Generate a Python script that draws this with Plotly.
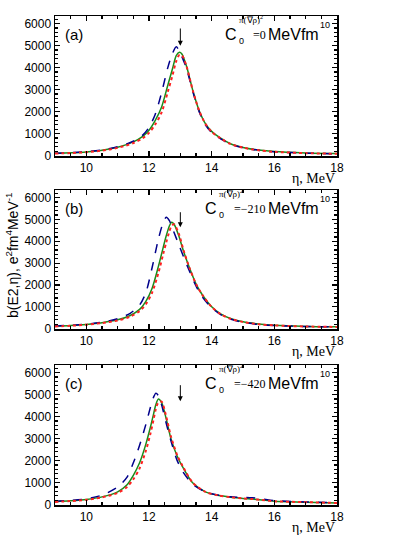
import plotly.graph_objects as go

# data (eta in MeV, b(E2) in e^2 fm^4 / MeV)
eta_a = [9, 9.5, 10, 10.5, 11, 11.5, 11.8, 12.0, 12.2, 12.4, 12.6, 12.75, 12.87, 12.97,
         13.05, 13.2, 13.4, 13.6, 13.8, 14.0, 14.3, 14.6, 15, 15.5, 16, 17, 18]
green_a = [100, 125, 165, 240, 380, 620, 870, 1150, 1600, 2200, 3200, 3950, 4550, 4700,
           4620, 4050, 2950, 2050, 1450, 1100, 780, 540, 370, 250, 180, 120, 90]
red_a = [90, 115, 155, 225, 350, 570, 790, 1030, 1420, 1950, 2900, 3650, 4300, 4580,
         4570, 4050, 2950, 2050, 1450, 1080, 770, 530, 360, 240, 170, 110, 80]
blue_a = [110, 130, 175, 260, 400, 650, 930, 1280, 1880, 2850, 4000, 4650, 4950, 4750,
          4500, 3950, 2900, 2000, 1400, 1050, 750, 520, 360, 240, 170, 110, 80]

eta_b = [9, 9.5, 10, 10.5, 11, 11.4, 11.7, 11.9, 12.1, 12.3, 12.45, 12.55, 12.65, 12.72,
         12.8, 12.95, 13.1, 13.3, 13.5, 13.7, 14.0, 14.3, 14.6, 15, 15.5, 16, 17, 18]
green_b = [110, 140, 190, 270, 400, 600, 880, 1250, 1850, 2850, 3700, 4250, 4700, 4870,
           4780, 4250, 3550, 2750, 2050, 1550, 1000, 660, 460, 310, 210, 150, 100, 80]
red_b = [100, 130, 180, 255, 370, 550, 800, 1120, 1650, 2550, 3400, 3950, 4450, 4700,
         4780, 4350, 3600, 2750, 2050, 1550, 990, 650, 450, 300, 200, 145, 95, 75]
blue_b = [120, 150, 200, 290, 450, 700, 1080, 1650, 2800, 4100, 4850, 5100, 4950, 4700,
          4400, 3850, 3300, 2600, 1950, 1450, 950, 630, 440, 290, 190, 140, 95, 75]

eta_c = [9, 9.5, 10, 10.5, 11, 11.3, 11.5, 11.7, 11.9, 12.05, 12.15, 12.22, 12.3, 12.4,
         12.55, 12.7, 12.9, 13.1, 13.4, 13.8, 14.2, 14.6, 15, 15.3, 15.6, 16, 17, 18]
green_c = [130, 170, 230, 350, 580, 900, 1330, 1900, 2750, 3550, 4150, 4550, 4800, 4650,
           3900, 3000, 2200, 1650, 980, 580, 420, 335, 280, 250, 210, 150, 110, 70]
red_c = [120, 160, 215, 325, 530, 800, 1150, 1650, 2450, 3250, 3900, 4350, 4650, 4680,
         4000, 3100, 2250, 1680, 990, 580, 420, 335, 280, 250, 210, 150, 110, 70]
blue_c = [150, 190, 260, 430, 800, 1250, 1900, 2700, 3650, 4450, 4900, 5070, 4950, 4550,
          3700, 2900, 2000, 1450, 920, 580, 430, 350, 330, 310, 260, 180, 120, 80]

panels = [
    ("(a)", "=0", eta_a, green_a, red_a, blue_a),
    ("(b)", "=\u2212210", eta_b, green_b, red_b, blue_b),
    ("(c)", "=\u2212420", eta_c, green_c, red_c, blue_c),
]
arrow_top = [5850, 5400, 5500]
arrow_tip = [5000, 4640, 4700]

W, H = 415, 537
def px(x):
    return x / W
def py(y):
    return 1 - y / H

# panel boxes in pixels: (top, bottom)
boxes = [(16, 156), (190, 329), (365, 505)]
x_left, x_right = 55, 337
c_left = [224, 204, 204]

fig = go.Figure()
arial = "Arial, Liberation Sans, sans-serif"
times = "Times New Roman, Liberation Serif, serif"

for i, (tag, ctext, eta, g, r, b) in enumerate(panels):
    n = "" if i == 0 else str(i + 1)
    xa, ya = "x" + n, "y" + n
    fig.add_trace(go.Scatter(x=eta, y=g, mode="lines", xaxis=xa, yaxis=ya,
                             line=dict(color="#1a8c1a", width=1.5, shape="spline", smoothing=0.8)))
    fig.add_trace(go.Scatter(x=eta, y=b, mode="lines", xaxis=xa, yaxis=ya,
                             line=dict(color="#00008b", width=1.5, dash="dash", shape="spline", smoothing=0.8)))
    fig.add_trace(go.Scatter(x=eta, y=r, mode="lines", xaxis=xa, yaxis=ya,
                             line=dict(color="#ff2020", width=2, dash="dot", shape="spline", smoothing=0.8)))

    top, bot = boxes[i]
    axcommon = dict(showline=True, linecolor="black", linewidth=1.5, mirror="ticks",
                    ticks="inside", ticklen=5, tickwidth=1.2, tickcolor="black",
                    showgrid=False, zeroline=False, automargin=False,
                    tickfont=dict(family=arial, size=12, color="black"))
    fig.layout["xaxis" + n] = dict(axcommon, domain=[px(x_left), px(x_right)], anchor=ya,
                                   range=[9, 18], tick0=0, dtick=2,
                                   minor=dict(dtick=0.5, ticks="inside", ticklen=3, tickcolor="black"))
    fig.layout["yaxis" + n] = dict(axcommon, domain=[py(bot), py(top)], anchor=xa,
                                   range=[-20, 6350], dtick=1000,
                                   minor=dict(dtick=200, ticks="inside", ticklen=3, tickcolor="black"))

    # panel tag
    fig.add_annotation(x=px(63), y=py(top + 18), xref="paper", yref="paper", text=tag,
                       showarrow=False, xanchor="left", yanchor="middle",
                       font=dict(family=arial, size=15, color="black"))
    # C_0^{pi(grad rho)^2} = ... MeVfm^10
    cl = c_left[i]
    fig.add_annotation(x=px(cl), y=py(top + 18), xref="paper", yref="paper", text="C",
                       showarrow=False, xanchor="left", yanchor="middle", borderpad=0,
                       font=dict(family=arial, size=16, color="black"))
    fig.add_annotation(x=px(cl + 13.6), y=py(top + 25), xref="paper", yref="paper", text="0",
                       showarrow=False, xanchor="left", yanchor="middle", borderpad=0,
                       font=dict(family=arial, size=9, color="black"))
    fig.add_annotation(x=px(cl + 13.6), y=py(top + 3), xref="paper", yref="paper",
                       text="\u03c0(\u2207\u03c1)<sup>2</sup>",
                       showarrow=False, xanchor="left", yanchor="middle", borderpad=0,
                       font=dict(family=times, size=9, color="black"))
    fig.add_annotation(x=px(268), y=py(top + 19), xref="paper", yref="paper",
                       text=ctext, showarrow=False, xanchor="right", yanchor="middle",
                       font=dict(family=times, size=12, color="black"))
    fig.add_annotation(x=px(321), y=py(top + 18), xref="paper", yref="paper",
                       text="MeVfm", showarrow=False, xanchor="right", yanchor="middle",
                       font=dict(family=arial, size=16, color="black"))
    fig.add_annotation(x=px(318), y=py(top + 9), xref="paper", yref="paper", text="10",
                       showarrow=False, xanchor="left", yanchor="middle",
                       font=dict(family=arial, size=9, color="black"))
    # arrow at eta = 13 MeV
    fig.add_annotation(x=13, y=arrow_tip[i], ax=13, ay=arrow_top[i], xref=xa, yref=ya,
                       axref=xa, ayref=ya, text="", showarrow=True, arrowhead=2,
                       arrowsize=1, arrowwidth=1, arrowcolor="black")
    # eta, MeV
    fig.add_annotation(x=px(x_right), y=py(bot + 22), xref="paper", yref="paper",
                       text="\u03b7, MeV", showarrow=False, xanchor="right", yanchor="middle",
                       font=dict(family=times, size=14, color="black"))

fig.add_annotation(x=px(12), y=py(256), xref="paper", yref="paper", textangle=-90,
                   text="b(E2,\u03b7), e<sup>2</sup>fm<sup>4</sup>MeV<sup>-1</sup>",
                   showarrow=False, xanchor="center", yanchor="middle",
                   font=dict(family=arial, size=14, color="black"))

fig.update_layout(width=W, height=H, margin=dict(l=0, r=0, t=0, b=0),
                  paper_bgcolor="white", plot_bgcolor="white", showlegend=False)

# drop the browser's default page margin so the figure sits at the window corner
fig.write_html("out.html", config={"staticPlot": True},
               post_script="document.body.style.margin='0';")
